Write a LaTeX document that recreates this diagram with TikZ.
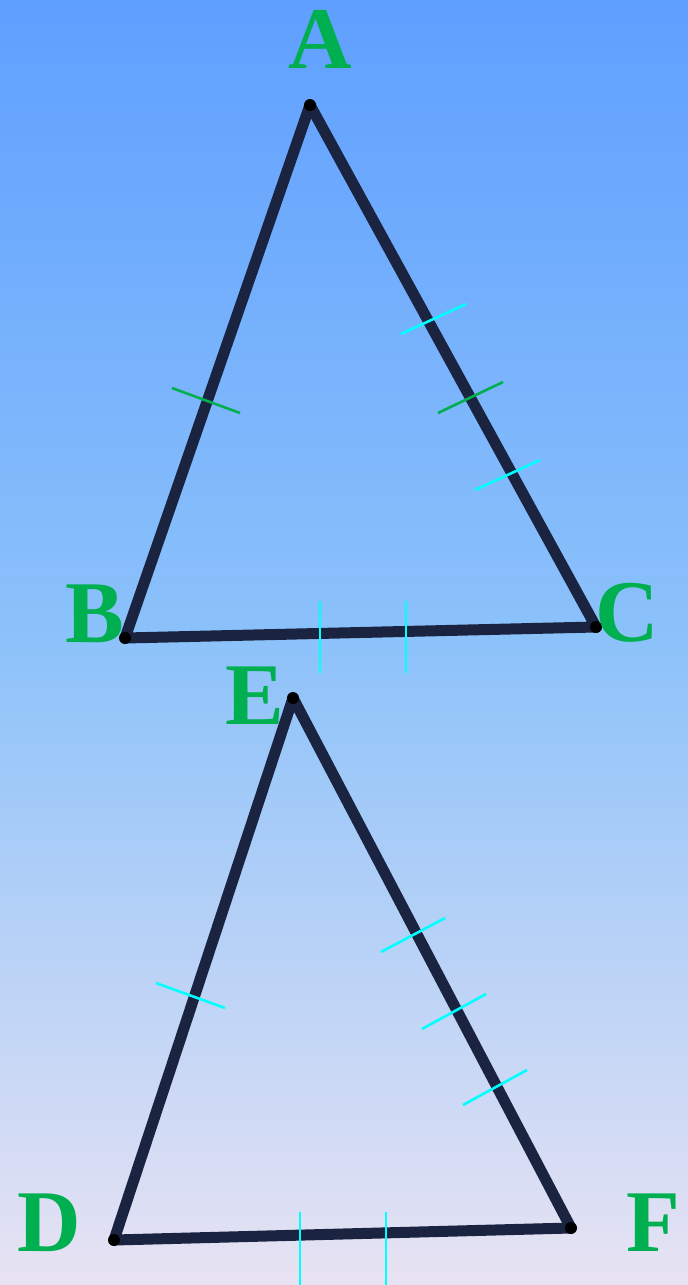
\documentclass[tikz,border=0pt]{standalone}
\usepackage{fontspec}
\setmainfont{Liberation Serif}
\usetikzlibrary{positioning,calc}

\definecolor{skytop}{RGB}{95,159,255}
\definecolor{skymid}{RGB}{140,194,250}
\definecolor{skybot}{RGB}{232,227,243}
\definecolor{edgecol}{RGB}{26,36,64}
\definecolor{labgreen}{RGB}{0,176,80}
\definecolor{tickcyan}{RGB}{0,255,255}

\begin{document}
\begin{tikzpicture}[x=1pt,y=-1pt,
  side/.style={draw=edgecol,line width=11pt,line join=round,line cap=round},
  vlab/.style={text=labgreen,font=\fontsize{88}{88}\selectfont\bfseries,inner sep=0pt},
  dot/.style={circle,fill=black,inner sep=0pt,minimum size=12pt},
  tickc/.style={draw=tickcyan,line width=2.6pt},
  tickg/.style={draw=labgreen,line width=2.6pt}
]
% background
\shade[top color=skytop,bottom color=skymid] (0,0) rectangle (688,640);
\shade[top color=skymid,bottom color=skybot] (0,640) rectangle (688,1285);
\useasboundingbox (0,0) rectangle (688,1285);

% first triangle
\coordinate (A) at (310,105);
\coordinate (B) at (125,638);
\coordinate (C) at (596,627);
\draw[side] (A) -- (B) -- (C) -- cycle;
\node[dot] (dA) at (A) {};
\node[dot] (dB) at (B) {};
\node[dot] (dC) at (C) {};
\node[vlab] (lA) at (320,39) {A};
\node[vlab] (lB) at (95,614) {B};
\node[vlab] (lC) at (627,613) {C};

% marks on ABC
\draw[tickg] (172,388) -- (240,413);
\draw[tickc] (401,334) -- (466,304);
\draw[tickg] (438,413) -- (503,382);
\draw[tickc] (475,490) -- (540,460);
\draw[tickc] (320,601) -- (320,673);
\draw[tickc] (406,601) -- (406,673);

% second triangle
\coordinate (E) at (293,698);
\coordinate (D) at (114,1240);
\coordinate (F) at (571,1228);
\draw[side] (E) -- (D) -- (F) -- cycle;
\node[dot] (dE) at (E) {};
\node[dot] (dD) at (D) {};
\node[dot] (dF) at (F) {};
\node[vlab] (lE) at (255,696) {E};
\node[vlab] (lD) at (49,1223) {D};
\node[vlab] (lF) at (653,1223) {F};

% marks on DEF
\draw[tickc] (156,983) -- (225,1008);
\draw[tickc] (381,952) -- (445,918);
\draw[tickc] (422,1029) -- (486,994);
\draw[tickc] (463,1105) -- (527,1070);
\draw[tickc] (300,1212) -- (300,1285);
\draw[tickc] (386,1212) -- (386,1285);
\end{tikzpicture}
\end{document}
